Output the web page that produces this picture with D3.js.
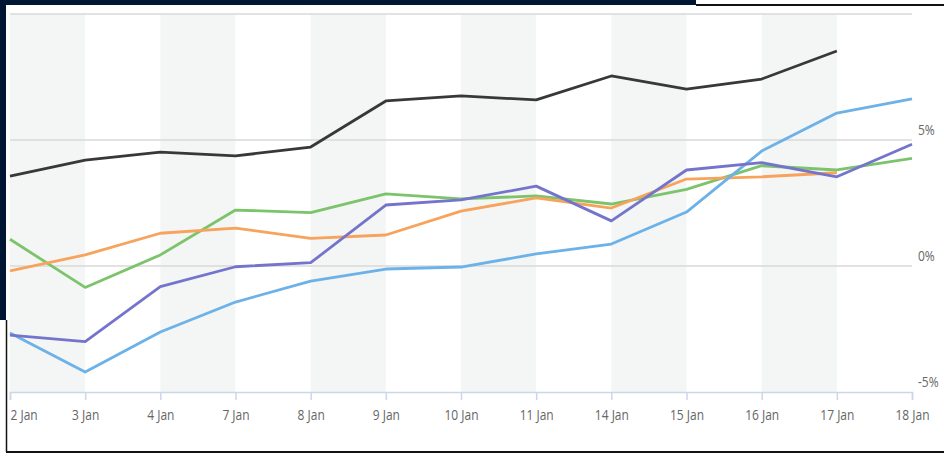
<!DOCTYPE html>
<html>
<head>
<meta charset="utf-8">
<script src="https://cdn.jsdelivr.net/npm/d3@7"></script>
<style>
  html, body { margin: 0; padding: 0; background: #fff; }
  svg { display: block; }
  .tick-label { font-family: "Open Sans", "DejaVu Sans", sans-serif; fill: #666; }
</style>
</head>
<body>
<div id="chart"></div>
<script>
// dates on the x axis (trading days)
const dates = ["2 Jan", "3 Jan", "4 Jan", "7 Jan", "8 Jan", "9 Jan", "10 Jan", "11 Jan", "14 Jan", "15 Jan", "16 Jan", "17 Jan", "18 Jan"];

// % change series (null = no point)
const blackSeries  = [3.57, 4.2, 4.52, 4.37, 4.72, 6.55, 6.75, 6.59, 7.54, 7.02, 7.42, 8.53, null];
const blueSeries   = [-2.66, -4.21, -2.62, -1.43, -0.6, -0.12, -0.04, 0.48, 0.87, 2.14, 4.56, 6.07, 6.63];
const purpleSeries = [-2.74, -3.0, -0.82, -0.03, 0.13, 2.42, 2.62, 3.17, 1.79, 3.81, 4.1, 3.54, 4.83];
const greenSeries  = [1.06, -0.85, 0.44, 2.22, 2.12, 2.86, 2.66, 2.78, 2.46, 3.04, 3.98, 3.81, 4.27];
const orangeSeries = [-0.19, 0.44, 1.3, 1.5, 1.1, 1.23, 2.18, 2.7, 2.3, 3.45, 3.54, 3.7, null];

const yTicks = [-5, 0, 5, 10];
const yTickLabels = ["-5%", "0%", "5%", ""];

const series = [
  { name: "green",  values: greenSeries,  color: "#7cc46c" },
  { name: "orange", values: orangeSeries, color: "#f7a35c" },
  { name: "blue",   values: blueSeries,   color: "#6cb2e8" },
  { name: "purple", values: purpleSeries, color: "#7474cc" },
  { name: "black",  values: blackSeries,  color: "#383838" }
];

const width = 944, height = 456;
const plot = { left: 10, right: 912, top: 14, bottom: 392 };
const squeeze = 0.8; // the original uses a condensed face

const svg = d3.select("#chart").append("svg")
  .attr("width", width)
  .attr("height", height);

// ---- frame ----
svg.append("rect").attr("x", 0).attr("y", 0).attr("width", width).attr("height", height).attr("fill", "#fff");
svg.append("rect").attr("x", 0).attr("y", 0).attr("width", 696).attr("height", 5).attr("fill", "#001733");
svg.append("rect").attr("x", 0).attr("y", 0).attr("width", 6).attr("height", 320).attr("fill", "#001733");
svg.append("line").attr("x1", 696).attr("x2", width).attr("y1", 5).attr("y2", 5)
  .attr("stroke", "#111").attr("stroke-width", 2);
svg.append("line").attr("x1", 6.5).attr("x2", 6.5).attr("y1", 320).attr("y2", 452)
  .attr("stroke", "#111").attr("stroke-width", 1.5);
svg.append("line").attr("x1", 6).attr("x2", width).attr("y1", 452).attr("y2", 452)
  .attr("stroke", "#111").attr("stroke-width", 2);

// ---- scales ----
const x = d3.scalePoint(dates, [plot.left, plot.right]);
const y = d3.scaleLinear([-5, 10], [plot.bottom, plot.top]);
const step = x.step();

// alternating column bands
svg.append("g").selectAll("rect")
  .data(dates.slice(0, -1).filter((d, i) => i % 2 === 0))
  .join("rect")
  .attr("x", d => x(d))
  .attr("y", plot.top)
  .attr("width", step)
  .attr("height", plot.bottom - plot.top)
  .attr("fill", "#f4f5f5");

// horizontal gridlines
svg.append("g").selectAll("line")
  .data(yTicks.filter(t => t > -5))
  .join("line")
  .attr("x1", plot.left)
  .attr("x2", plot.right)
  .attr("y1", d => y(d))
  .attr("y2", d => y(d))
  .attr("stroke", "#d9d9d9")
  .attr("stroke-width", 1.5);

// y labels on the right, sitting above their gridline
svg.append("g").selectAll("text")
  .data(yTicks)
  .join("text")
  .attr("class", "tick-label")
  .attr("transform", d => `translate(${plot.right + 6},${y(d) - 5}) scale(${squeeze},1)`)
  .attr("font-size", 15)
  .text((d, i) => yTickLabels[i]);

// x axis
const xAxis = d3.axisBottom(x).tickSize(8).tickPadding(9);
const axisG = svg.append("g")
  .attr("transform", `translate(0,${plot.bottom})`)
  .call(xAxis);
axisG.select(".domain").attr("stroke", "#ccd6eb").attr("stroke-width", 1.5);
axisG.selectAll(".tick line").attr("stroke", "#ccd6eb").attr("stroke-width", 1.5);
axisG.selectAll(".tick text")
  .attr("class", "tick-label")
  .attr("font-size", 15)
  .attr("transform", `scale(${squeeze},1)`)
  .attr("text-anchor", (d, i) => i === 0 ? "start" : "middle");

// lines
const line = d3.line()
  .defined(d => d.v != null)
  .x(d => x(d.date))
  .y(d => y(d.v));

svg.append("g").selectAll("path")
  .data(series)
  .join("path")
  .attr("fill", "none")
  .attr("stroke", d => d.color)
  .attr("stroke-width", 2.8)
  .attr("stroke-linejoin", "round")
  .attr("d", s => line(dates.map((date, i) => ({ date, v: s.values[i] }))));
</script>
</body>
</html>
